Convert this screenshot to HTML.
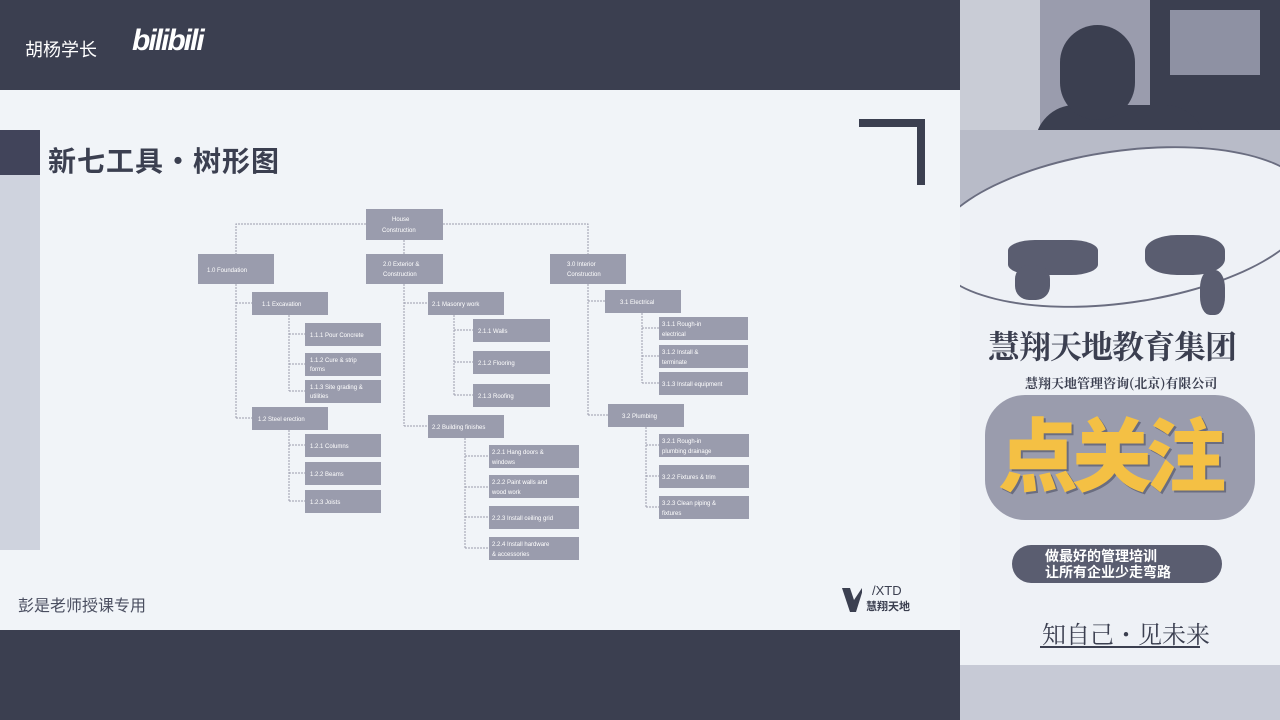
<!DOCTYPE html>
<html><head><meta charset="utf-8"><style>
*{margin:0;padding:0}
body{width:1280px;height:720px;overflow:hidden;position:relative;background:#f0f3f7;font-family:"Liberation Sans","Noto Sans CJK SC",sans-serif}
.a{position:absolute}
</style></head><body>
<div class="a" style="left:0;top:0;width:960px;height:90px;background:#3b3f50"></div>
<div class="a" style="left:25px;top:36px;color:#fff;font-size:18px;font-family:'Noto Sans CJK SC',sans-serif">胡杨学长</div>
<div class="a" style="left:132px;top:24px;color:#fff;font-size:30px;font-weight:bold;letter-spacing:-2px;font-style:italic">bilibili</div>
<div class="a" style="left:0;top:90px;width:960px;height:540px;background:#f1f4f8"></div>
<div class="a" style="left:0;top:130px;width:40px;height:45px;background:#41445a"></div>
<div class="a" style="left:0;top:175px;width:40px;height:375px;background:#cfd3de"></div>
<div class="a" style="left:48px;top:140px;color:#3b3f50;font-size:28px;font-weight:bold;font-family:'Noto Sans CJK SC',sans-serif;letter-spacing:1px">新七工具・树形图</div>
<div class="a" style="left:859px;top:119px;width:66px;height:8px;background:#3b3f50"></div>
<div class="a" style="left:917px;top:119px;width:8px;height:66px;background:#3b3f50"></div>
<div class="a" style="left:18px;top:592px;color:#4a4e60;font-size:16px;font-family:'Noto Sans CJK SC',sans-serif">彭是老师授课专用</div>
<div class="a" style="left:842px;top:588px;width:20px;height:24px;background:#3b3f50;clip-path:polygon(0 0,40% 0,60% 50%,100% 0,100% 20%,70% 100%,40% 100%)"></div>
<div class="a" style="left:872px;top:583px;color:#3b3f50;font-size:13px">/XTD</div>
<div class="a" style="left:866px;top:598px;color:#3b3f50;font-size:11px;font-weight:bold;font-family:'Noto Sans CJK SC',sans-serif">慧翔天地</div>
<div class="a" style="left:0;top:630px;width:960px;height:90px;background:#3b3f50"></div>

<svg class="a" style="left:0;top:0" width="960" height="630" font-family="Liberation Sans" font-size="6" fill="#fff">
<g stroke="#9a9cad" stroke-width="1" fill="none" stroke-dasharray="2,1">
<path d="M366 224H236V254M443 224H588V254M404 240V254"/>
<path d="M236 284V418M236 303H252M236 418H252"/>
<path d="M289 315V391M289 334H305M289 364H305M289 391H305"/>
<path d="M289 430V501M289 445H305M289 473H305M289 501H305"/>
<path d="M404 284V426M404 303H428M404 426H428"/>
<path d="M454 315V395M454 330H473M454 362H473M454 395H473"/>
<path d="M465 438V548M465 456H489M465 487H489M465 517H489M465 548H489"/>
<path d="M588 284V415M588 301H605M588 415H608"/>
<path d="M642 313V383M642 328H659M642 356H659M642 383H659"/>
<path d="M646 427V507M646 445H659M646 476H659M646 507H659"/>
</g>
<g fill="#9a9cad">
<rect x="366" y="209" width="77" height="31"/>
<rect x="198" y="254" width="76" height="30"/><rect x="366" y="254" width="77" height="30"/><rect x="550" y="254" width="76" height="30"/>
<rect x="252" y="292" width="76" height="23"/><rect x="252" y="407" width="76" height="23"/>
<rect x="305" y="323" width="76" height="23"/><rect x="305" y="353" width="76" height="23"/><rect x="305" y="380" width="76" height="23"/>
<rect x="305" y="434" width="76" height="23"/><rect x="305" y="462" width="76" height="23"/><rect x="305" y="490" width="76" height="23"/>
<rect x="428" y="292" width="76" height="23"/><rect x="428" y="415" width="76" height="23"/>
<rect x="473" y="319" width="77" height="23"/><rect x="473" y="351" width="77" height="23"/><rect x="473" y="384" width="77" height="23"/>
<rect x="489" y="445" width="90" height="23"/><rect x="489" y="475" width="90" height="23"/><rect x="489" y="506" width="90" height="23"/><rect x="489" y="537" width="90" height="23"/>
<rect x="605" y="290" width="76" height="23"/><rect x="608" y="404" width="76" height="23"/>
<rect x="659" y="317" width="89" height="23"/><rect x="659" y="345" width="89" height="23"/><rect x="659" y="372" width="89" height="23"/>
<rect x="659" y="434" width="90" height="23"/><rect x="659" y="465" width="90" height="23"/><rect x="659" y="496" width="90" height="23"/>
</g>
<text x="392" y="221">House</text><text x="382" y="232">Construction</text>
<text x="207" y="272">1.0 Foundation</text>
<text x="383" y="266">2.0 Exterior &amp;</text><text x="383" y="276">Construction</text>
<text x="567" y="266">3.0 Interior</text><text x="567" y="276">Construction</text>
<text x="262" y="306">1.1 Excavation</text><text x="258" y="421">1.2 Steel erection</text>
<text x="310" y="337">1.1.1 Pour Concrete</text><text x="310" y="362">1.1.2 Cure &amp; strip</text><text x="310" y="371">forms</text>
<text x="310" y="389">1.1.3 Site grading &amp;</text><text x="310" y="398">utilities</text>
<text x="310" y="448">1.2.1 Columns</text><text x="310" y="476">1.2.2 Beams</text><text x="310" y="504">1.2.3 Joists</text>
<text x="432" y="306">2.1 Masonry work</text><text x="432" y="429">2.2 Building finishes</text>
<text x="478" y="333">2.1.1 Walls</text><text x="478" y="365">2.1.2 Flooring</text><text x="478" y="398">2.1.3 Roofing</text>
<text x="492" y="454">2.2.1 Hang doors &amp;</text><text x="492" y="464">windows</text>
<text x="492" y="484">2.2.2 Paint walls and</text><text x="492" y="494">wood work</text>
<text x="492" y="520">2.2.3 Install ceiling grid</text>
<text x="492" y="546">2.2.4 Install hardware</text><text x="492" y="556">&amp; accessories</text>
<text x="620" y="304">3.1 Electrical</text><text x="622" y="418">3.2 Plumbing</text>
<text x="662" y="326">3.1.1 Rough-in</text><text x="662" y="336">electrical</text>
<text x="662" y="354">3.1.2 Install &amp;</text><text x="662" y="364">terminate</text>
<text x="662" y="386">3.1.3 Install equipment</text>
<text x="662" y="443">3.2.1 Rough-in</text><text x="662" y="453">plumbing drainage</text>
<text x="662" y="479">3.2.2 Fixtures &amp; trim</text>
<text x="662" y="505">3.2.3 Clean piping &amp;</text><text x="662" y="515">fixtures</text>
</svg>

<div class="a" style="left:960px;top:0;width:320px;height:720px;background:#eef1f6;overflow:hidden">
 <div class="a" style="left:0;top:0;width:320px;height:185px;background:#9a9cad"></div>
 <div class="a" style="left:0;top:0;width:80px;height:130px;background:#c9ccd6"></div>
 <div class="a" style="left:190px;top:0;width:130px;height:130px;background:#3b3f50"></div>
 <div class="a" style="left:210px;top:10px;width:90px;height:65px;background:#8e91a3"></div>
 <div class="a" style="left:75px;top:105px;width:170px;height:80px;background:#3b3f50;border-radius:40px 40px 0 0"></div>
 <div class="a" style="left:100px;top:25px;width:75px;height:95px;background:#3b3f50;border-radius:40px"></div>
 <div class="a" style="left:0;top:130px;width:320px;height:80px;background:#b8bbc8"></div>
 <div class="a" style="left:-30px;top:150px;width:380px;height:150px;border-radius:50%;border:2px solid #6a6d80;background:#eef1f6;transform:rotate(-8deg)"></div>
 <div class="a" style="left:48px;top:240px;width:90px;height:35px;background:#5a5d70;border-radius:30%"></div>
 <div class="a" style="left:55px;top:265px;width:35px;height:35px;background:#5a5d70;border-radius:40%"></div>
 <div class="a" style="left:185px;top:235px;width:80px;height:40px;background:#5a5d70;border-radius:40%"></div>
 <div class="a" style="left:240px;top:270px;width:25px;height:45px;background:#5a5d70;border-radius:40%"></div>
 <div class="a" style="left:28px;top:322px;color:#3b3f50;font-size:32px;font-weight:bold;font-family:'Noto Serif CJK SC',serif;letter-spacing:-1px">慧翔天地教育集团</div>
 <div class="a" style="left:65px;top:373px;color:#3b3f50;font-size:13px;font-weight:bold;font-family:'Noto Serif CJK SC',serif">慧翔天地管理咨询(北京)有限公司</div>
 <div class="a" style="left:25px;top:395px;width:270px;height:125px;background:#9a9cad;border-radius:40px"></div>
 <div class="a" style="left:38px;top:395px;color:#f4c044;font-size:80px;font-weight:900;font-family:'Noto Sans CJK SC',sans-serif;letter-spacing:-6px;line-height:1.4;text-shadow:2px 2px 0 #6a6d80">点关注</div>
 <div class="a" style="left:52px;top:545px;width:210px;height:38px;background:#5a5d70;border-radius:19px"></div>
 <div class="a" style="left:85px;top:548px;color:#fff;font-size:14px;font-weight:bold;line-height:16px;font-family:'Noto Sans CJK SC',sans-serif">做最好的管理培训<br>让所有企业少走弯路</div>
 <div class="a" style="left:82px;top:615px;color:#3b3f50;font-size:24px;font-family:'Noto Serif CJK SC',serif">知自己・见未来</div>
 <div class="a" style="left:80px;top:646px;width:160px;height:2px;background:#3b3f50"></div>
 <div class="a" style="left:0;top:665px;width:320px;height:55px;background:#c7cad6"></div>
</div>
</body></html>
